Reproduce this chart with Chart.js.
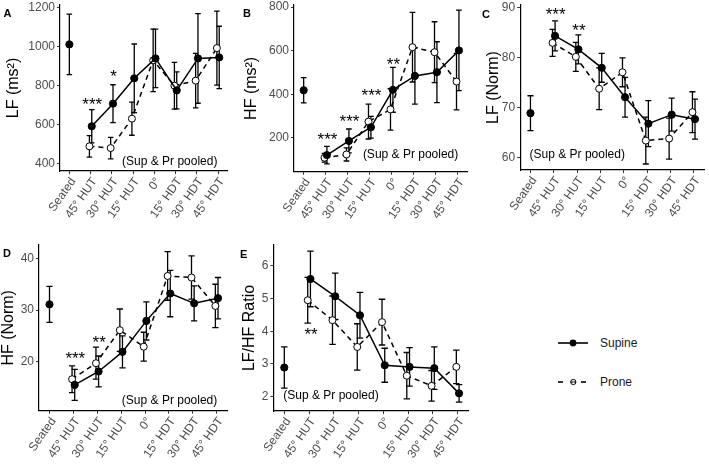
<!DOCTYPE html>
<html><head><meta charset="utf-8">
<script src="https://cdn.jsdelivr.net/npm/chart.js@4.4.1/dist/chart.umd.min.js"></script>
<style>
html,body{margin:0;padding:0;background:#fff;width:709px;height:464px;overflow:hidden;position:relative;font-family:"Liberation Sans",Arial,sans-serif;}
canvas{position:absolute;left:0;top:0;}
.lg{position:absolute;font-size:12px;color:#1a1a1a;line-height:14px;}
</style></head><body>
<svg style="position:absolute;left:0;top:0" width="709" height="464">
  <line x1="558" y1="343" x2="588" y2="343" stroke="#000" stroke-width="1.6"/>
  <circle cx="573" cy="343" r="3.4" fill="#000"/>
  <line x1="558" y1="382" x2="563" y2="382" stroke="#000" stroke-width="1.6"/>
  <line x1="581" y1="382" x2="586" y2="382" stroke="#000" stroke-width="1.6"/>
  <circle cx="573.3" cy="382" r="2.6" fill="#fff" stroke="#000" stroke-width="1"/>
  <line x1="570.5" y1="382" x2="576" y2="382" stroke="#000" stroke-width="1"/>
</svg>
<div class="lg" style="left:600px;top:336px">Supine</div>
<div class="lg" style="left:600px;top:375px">Prone</div>
<script>
const categories = ['Seated','45° HUT','30° HUT','15° HUT','0°','15° HDT','30° HDT','45° HDT'];

// A: LF (ms²)
const lfAbsSeated = [1010], lfAbsSeatedErr = [155];
const lfAbsSupine = [590, 706, 836, 938, 774, 938, 943];
const lfAbsSupineErr = [85, 97, 176, 150, 95, 230, 160];
const lfAbsProne = [487, 478, 629, 928, 798, 824, 991];
const lfAbsProneErr = [55, 55, 85, 160, 120, 140, 190];
const lfAbsStars = ['', '***', '*', '', '', '', '', ''];
const lfAbsTicks = [400, 600, 800, 1000, 1200];

// B: HF (ms²)
const hfAbsSeated = [418], hfAbsSeatedErr = [58];
const hfAbsSupine = [120, 185, 248, 420, 484, 501, 601];
const hfAbsSupineErr = [40, 55, 50, 103, 130, 140, 185];
const hfAbsProne = [108, 123, 274, 330, 616, 593, 458];
const hfAbsProneErr = [20, 30, 80, 95, 160, 140, 130];
const hfAbsStars = ['', '***', '***', '***', '**', '', '', ''];
const hfAbsTicks = [200, 400, 600, 800];

// C: LF (Norm)
const lfNormSeated = [68.9], lfNormSeatedErr = [3.5];
const lfNormSupine = [84.4, 81.7, 78.0, 72.1, 66.8, 68.6, 67.7];
const lfNormSupineErr = [3.0, 2.9, 2.9, 4.0, 4.6, 3.3, 4.0];
const lfNormProne = [83.0, 80.2, 73.8, 77.1, 63.4, 63.8, 69.1];
const lfNormProneErr = [2.7, 2.9, 4.2, 2.9, 4.7, 4.1, 4.1];
const lfNormStars = ['', '***', '**', '', '', '', '', ''];
const lfNormTicks = [60, 70, 80, 90];

// D: HF (Norm)
const hfNormSeated = [31.1], hfNormSeatedErr = [3.5];
const hfNormSupine = [15.5, 18.1, 21.9, 27.9, 33.2, 31.3, 32.3];
const hfNormSupineErr = [3.0, 3.0, 3.1, 3.7, 4.5, 3.4, 4.0];
const hfNormProne = [16.6, 19.7, 26.1, 22.9, 36.6, 36.3, 30.8];
const hfNormProneErr = [2.6, 3.1, 4.1, 2.8, 4.7, 4.2, 4.2];
const hfNormStars = ['', '***', '**', '', '', '', '', ''];
const hfNormTicks = [20, 30, 40];

// E: LF/HF Ratio
const ratioSeated = [2.89], ratioSeatedErr = [0.63];
const ratioSupine = [5.60, 5.07, 4.49, 2.96, 2.91, 2.87, 2.10];
const ratioSupineErr = [0.85, 0.71, 0.70, 0.52, 0.59, 0.65, 0.27];
const ratioProne = [4.95, 4.34, 3.52, 4.28, 2.64, 2.33, 2.91];
const ratioProneErr = [0.70, 0.74, 0.71, 0.70, 0.71, 0.47, 0.51];
const ratioStars = ['', '**', '', '', '', '', '', ''];
const ratioTicks = [2, 3, 4, 5, 6];

const FONT = '"Liberation Sans", Arial, sans-serif';
const XH = 58, DODGE = 0.055;

const panels = [
  {letter:'A', lpos:[3.5,13.5], title:'LF (ms²)', titleLeft:5.3, area:{l:60,r:227.4,t:5,b:171}, yMin:360.5, yMax:1212,
   ticks:lfAbsTicks, seated:lfAbsSeated, seatedErr:lfAbsSeatedErr, sup:lfAbsSupine, supErr:lfAbsSupineErr, pr:lfAbsProne, prErr:lfAbsProneErr,
   stars:lfAbsStars, starY:[0,723,870,0,0,0,0,0], pooled:[2.48,410]},
  {letter:'B', lpos:[243,14], title:'HF (ms²)', titleLeft:244, area:{l:294,r:467.4,t:5,b:171.7}, yMin:43.7, yMax:810,
   ticks:hfAbsTicks, seated:hfAbsSeated, seatedErr:hfAbsSeatedErr, sup:hfAbsSupine, supErr:hfAbsSupineErr, pr:hfAbsProne, prErr:hfAbsProneErr,
   stars:hfAbsStars, starY:[0,212,294,412,558,0,0,0], pooled:[2.69,120]},
  {letter:'C', lpos:[482,14.5], title:'LF (Norm)', titleLeft:486, area:{l:520.2,r:708.8,t:3,b:170}, yMin:57.5, yMax:90.6,
   ticks:lfNormTicks, seated:lfNormSeated, seatedErr:lfNormSeatedErr, sup:lfNormSupine, supErr:lfNormSupineErr, pr:lfNormProne, prErr:lfNormProneErr,
   stars:lfNormStars, starY:[0,89.5,86.4,0,0,0,0,0], pooled:[-0.04,60.65]},
  {letter:'D', lpos:[3,254], title:'HF (Norm)', titleLeft:0.3, area:{l:39,r:227.2,t:245,b:410.7}, yMin:10.5, yMax:42.6,
   ticks:hfNormTicks, seated:hfNormSeated, seatedErr:hfNormSeatedErr, sup:hfNormSupine, supErr:hfNormSupineErr, pr:hfNormProne, prErr:hfNormProneErr,
   stars:hfNormStars, starY:[0,21.5,24.5,0,0,0,0,0], pooled:[3.03,12.4]},
  {letter:'E', lpos:[240,255], title:'LF/HF Ratio', titleLeft:242, area:{l:273.4,r:468.6,t:245,b:411}, yMin:1.56, yMax:6.64,
   ticks:ratioTicks, seated:ratioSeated, seatedErr:ratioSeatedErr, sup:ratioSupine, supErr:ratioSupineErr, pr:ratioProne, prErr:ratioProneErr,
   stars:ratioStars, starY:[0,4.03,0,0,0,0,0,0], pooled:[-0.04,2.02]}
];

const errorBarPlugin = {
  id:'errbars',
  beforeDatasetsDraw(chart){
    const ctx = chart.ctx, xs = chart.scales.x, ys = chart.scales.y;
    ctx.save();
    ctx.strokeStyle = '#000'; ctx.lineWidth = 1.3;
    chart.data.datasets.forEach((ds, di) => {
      if (!ds.errors) return;
      ds.data.forEach((pt, j) => {
        const x = xs.getPixelForValue(pt.x);
        const cap = xs.getPixelForValue(pt.x + 0.13) - x;
        const yT = ys.getPixelForValue(pt.y + ds.errors[j]);
        const yB = ys.getPixelForValue(pt.y - ds.errors[j]);
        ctx.beginPath();
        ctx.moveTo(x, yT); ctx.lineTo(x, yB);
        ctx.moveTo(x - cap, yT); ctx.lineTo(x + cap, yT);
        ctx.moveTo(x - cap, yB); ctx.lineTo(x + cap, yB);
        ctx.stroke();
      });
    });
    ctx.restore();
  }
};

const annotPlugin = {
  id:'annot',
  afterDraw(chart){
    const p = chart.options.plugins.annot.panel;
    const ctx = chart.ctx, xs = chart.scales.x, ys = chart.scales.y;
    ctx.save();
    ctx.fillStyle = '#000';
    ctx.font = '17px ' + FONT;
    ctx.textAlign = 'center'; ctx.textBaseline = 'alphabetic';
    p.stars.forEach((s, i) => {
      if (!s) return;
      ctx.fillText(s, xs.getPixelForValue(i + 0.08), ys.getPixelForValue(p.starY[i]) + 0.58 * 17);
    });
    ctx.font = '12px ' + FONT;
    ctx.textAlign = 'left'; ctx.textBaseline = 'middle';
    ctx.fillText('(Sup & Pr pooled)', xs.getPixelForValue(p.pooled[0]), ys.getPixelForValue(p.pooled[1]));
    ctx.font = 'bold 11px ' + FONT;
    ctx.fillText(p.letter, p.lpos[0], p.lpos[1]);
    ctx.restore();
  }
};

panels.forEach(p => {
  const cv = document.createElement('canvas');
  cv.width = 709; cv.height = 464;
  document.body.appendChild(cv);
  const ywidth = p.area.l - p.titleLeft;
  new Chart(cv, {
    type:'line',
    data:{datasets:[
      {label:'Supine', data:p.sup.map((v,i)=>({x:i+1+DODGE, y:v})), errors:p.supErr,
       borderColor:'#000', backgroundColor:'#000', borderWidth:1.5, tension:0,
       pointRadius:3.6, pointBackgroundColor:'#000', pointBorderColor:'#000', pointBorderWidth:1},
      {label:'Prone', data:p.pr.map((v,i)=>({x:i+1-DODGE, y:v})), errors:p.prErr,
       borderColor:'#000', backgroundColor:'#fff', borderWidth:1.5, borderDash:[5,4], tension:0,
       pointRadius:3.5, pointBackgroundColor:'#fff', pointBorderColor:'#000', pointBorderWidth:1},
      {label:'Seated', data:p.seated.map(v=>({x:0, y:v})), errors:p.seatedErr, showLine:false,
       borderColor:'#000', backgroundColor:'#000',
       pointRadius:3.6, pointBackgroundColor:'#000', pointBorderColor:'#000', pointBorderWidth:1}
    ]},
    options:{
      animation:false, responsive:false, events:[],
      layout:{padding:{left:p.titleLeft, top:p.area.t, right:709-p.area.r, bottom:464-p.area.b-XH}},
      plugins:{legend:{display:false}, tooltip:{enabled:false}, annot:{panel:p}},
      scales:{
        x:{type:'linear', min:-0.44, max:7.44, bounds:'data',
          afterBuildTicks:s=>{ s.ticks = categories.map((c,i)=>({value:i})); },
          afterFit:s=>{ s.height = XH; s.paddingLeft = 0; s.paddingRight = 0; },
          ticks:{autoSkip:false, minRotation:55, maxRotation:55, color:'#4d4d4d', padding:1, labelOffset:4,
                 font:{family:FONT, size:12}, callback:v=>categories[v]},
          grid:{drawOnChartArea:false, drawTicks:true, tickLength:3, color:'#333', lineWidth:1},
          border:{display:true, color:'#000', width:1.2}},
        y:{type:'linear', min:p.yMin, max:p.yMax, bounds:'data',
          afterBuildTicks:s=>{ s.ticks = p.ticks.map(v=>({value:v})); },
          afterFit:s=>{ s.width = ywidth; s.paddingTop = 0; s.paddingBottom = 0; },
          ticks:{color:'#4d4d4d', padding:2, font:{family:FONT, size:12}, callback:v=>String(v)},
          grid:{drawOnChartArea:false, drawTicks:true, tickLength:3, color:'#333', lineWidth:1},
          border:{display:true, color:'#000', width:1.2},
          title:{display:true, text:p.title, color:'#000', padding:0, font:{family:FONT, size:16, lineHeight:1}}}
      }
    },
    plugins:[errorBarPlugin, annotPlugin]
  });
});
</script>
</body></html>
